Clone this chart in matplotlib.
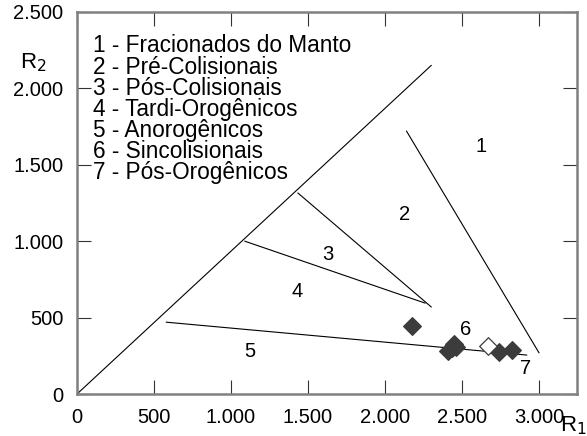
import numpy as np
import matplotlib
matplotlib.use('Agg')
import matplotlib.pyplot as plt

plt.rcParams['font.family'] = ['Liberation Sans', 'DejaVu Sans']

# field boundaries (R1, R2)
boundaries = [
     [(0, 0), (2300, 2150)],
     [(2140, 1720), (3000, 270)],
     [(1435, 1315), (2300, 570)],
     [(1090, 1000), (2260, 595)],
     [(580, 470), (2920, 255)],
]

field_labels = ['1', '2', '3', '4', '5', '6', '7']
field_x = [2623, 2130, 1630, 1429, 1123, 2526, 2916]
field_y = [1623, 1178, 916, 668, 275, 419, 170]

legend_lines = ['1 - Fracionados do Manto', '2 - Pré-Colisionais',
                '3 - Pós-Colisionais', '4 - Tardi-Orogênicos',
                '5 - Anorogênicos', '6 - Sincolisionais', '7 - Pós-Orogênicos']

# samples
filled_r1 = [2175, 2409, 2435, 2450, 2460, 2740, 2825]
filled_r2 = [445, 281, 300, 325, 310, 275, 288]
open_r1 = [2667]
open_r2 = [316]

fig = plt.figure(figsize=[5.87, 4.36], dpi=100)
ax = fig.add_axes([0.1312, 0.0963, 0.8518, 0.8762])

for seg in boundaries:
     xs = [p[0] for p in seg]
     ys = [p[1] for p in seg]
     ax.plot(xs, ys, c='black', lw=0.8)

for lab, x, y in zip(field_labels, field_x, field_y):
     ax.text(x, y, lab, fontsize=14.5, ha='center', va='center')

ax.scatter(filled_r1, filled_r2, marker='D', s=80, c='#3c3c3c', zorder=3)
ax.scatter(open_r1, open_r2, marker='D', s=80, facecolors='white',
           edgecolors='#3c3c3c', linewidths=0.9, zorder=3)

for i, t in enumerate(legend_lines):
     ax.text(0.031, 0.911 - i * 0.055, t, transform=ax.transAxes,
             fontsize=16.3, ha='left', va='center')

ax.set_xlim(0, 3247)
ax.set_ylim(0, 2500)
ticks_x = [0, 500, 1000, 1500, 2000, 2500, 3000]
ticks_y = [0, 500, 1000, 1500, 2000, 2500]
ax.set_xticks(ticks_x)
ax.set_yticks(ticks_y)
fmt = lambda v: '{:,}'.format(v).replace(',', '.')
ax.set_xticklabels([fmt(v) for v in ticks_x])
ax.set_yticklabels([fmt(v) for v in ticks_y])
ax.tick_params(direction='in', length=10, width=0.8, color='#333333',
               labelsize=14.5, top=True, right=True, pad=10)
for sp in ax.spines.values():
     sp.set_color('#808080')
     sp.set_linewidth(1.8)

fig.text(33 / 587, 1 - 63 / 436, r'R$_2$', fontsize=16, ha='center', va='center')
fig.text(573 / 587, 1 - 426 / 436, r'R$_1$', fontsize=16, ha='center', va='center')

fig.savefig('out.png', dpi=100)
